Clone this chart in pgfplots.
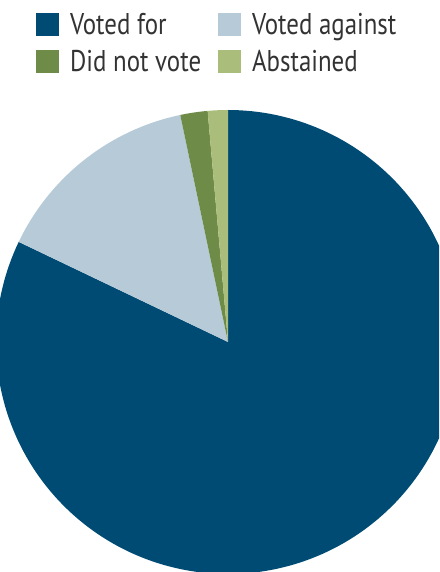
\documentclass[border=0pt]{standalone}
\usepackage{pgfplots}
\pgfplotsset{compat=1.18}
\usepackage{fontspec}
\setmainfont{PT Sans}
\newfontfamily\legfont[FakeStretch=0.83]{PT Sans}
\definecolor{cFor}{HTML}{004B73}
\definecolor{cAgainst}{HTML}{B6CAD7}
\definecolor{cNot}{HTML}{6E8B48}
\definecolor{cAbs}{HTML}{ABBD7B}
\definecolor{txt}{HTML}{333333}
% shares in percent
\def\vFor{82.1}
\def\vAgainst{14.6}
\def\vNot{1.9}
\def\vAbs{1.4}
\begin{document}
\begin{tikzpicture}
\path[use as bounding box] (0,0) rectangle (439pt,572pt);
\clip (0,0) rectangle (439pt,572pt);
\pgfmathsetmacro{\aA}{90}
\pgfmathsetmacro{\aB}{\aA-3.6*\vFor}
\pgfmathsetmacro{\aC}{\aB-3.6*\vAgainst}
\pgfmathsetmacro{\aD}{\aC-3.6*\vNot}
\pgfmathsetmacro{\aE}{\aD-3.6*\vAbs}
\begin{axis}[
  at={(0,0)}, anchor=south west,
  width=439pt, height=572pt, scale only axis,
  xmin=0, xmax=439, ymin=0, ymax=572,
  hide axis, clip=true,
  legend columns=2,
  legend cell align=left,
  legend style={at={(axis cs:36,559)}, anchor=north west, draw=none, fill=none,
    font=\legfont\fontsize{30}{32}\selectfont\color{txt},
    row sep=14pt,
    /tikz/every even column/.append style={column sep=17pt},
    inner sep=0pt,
    nodes={inner sep=0pt, inner xsep=0pt}},
  legend image code/.code={\fill[#1] (0pt,-11.5pt) rectangle (23pt,11.5pt); \path (34pt,0pt);},
]
\addplot[fill=cFor, draw=none, domain=\aB:\aA, samples=200, variable=\t]
  ({228+232*cos(\t)},{230+232*sin(\t)}) -- (axis cs:228,230) -- cycle;
\addlegendentry{Voted for}
\addplot[fill=cAgainst, draw=none, domain=\aC:\aB, samples=60, variable=\t]
  ({228+232*cos(\t)},{230+232*sin(\t)}) -- (axis cs:228,230) -- cycle;
\addlegendentry{Voted against}
\addplot[fill=cNot, draw=none, domain=\aD:\aC, samples=20, variable=\t]
  ({228+232*cos(\t)},{230+232*sin(\t)}) -- (axis cs:228,230) -- cycle;
\addlegendentry{Did not vote}
\addplot[fill=cAbs, draw=none, domain=\aE:\aD, samples=20, variable=\t]
  ({228+232*cos(\t)},{230+232*sin(\t)}) -- (axis cs:228,230) -- cycle;
\addlegendentry{Abstained}
\end{axis}
\end{tikzpicture}
\end{document}
